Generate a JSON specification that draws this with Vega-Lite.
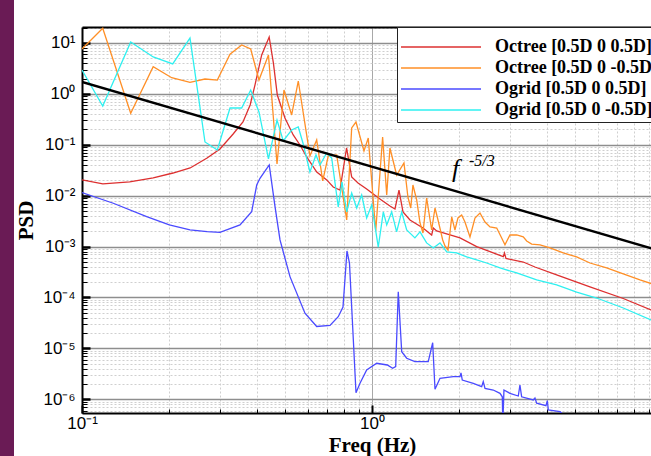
{
  "$schema": "https://vega.github.io/schema/vega-lite/v6.json",
  "autosize": "none",
  "padding": {"left": 82, "top": 27, "right": 0, "bottom": 43},
  "width": 580,
  "height": 386,
  "background": "#6a1b55",
  "config": {
    "view": {"fill": "white", "stroke": "white", "strokeWidth": 136}
  },
  "datasets": {
    "psd": [
      {"series": "Octree [0.5D 0 0.5D]", "f": 0.1, "psd": 0.0204},
      {"series": "Octree [0.5D 0 0.5D]", "f": 0.118, "psd": 0.017},
      {"series": "Octree [0.5D 0 0.5D]", "f": 0.146, "psd": 0.0186},
      {"series": "Octree [0.5D 0 0.5D]", "f": 0.176, "psd": 0.0223},
      {"series": "Octree [0.5D 0 0.5D]", "f": 0.206, "psd": 0.0279},
      {"series": "Octree [0.5D 0 0.5D]", "f": 0.236, "psd": 0.035},
      {"series": "Octree [0.5D 0 0.5D]", "f": 0.27, "psd": 0.0551},
      {"series": "Octree [0.5D 0 0.5D]", "f": 0.299, "psd": 0.0827},
      {"series": "Octree [0.5D 0 0.5D]", "f": 0.332, "psd": 0.163},
      {"series": "Octree [0.5D 0 0.5D]", "f": 0.359, "psd": 0.28},
      {"series": "Octree [0.5D 0 0.5D]", "f": 0.38, "psd": 0.605},
      {"series": "Octree [0.5D 0 0.5D]", "f": 0.395, "psd": 1.5},
      {"series": "Octree [0.5D 0 0.5D]", "f": 0.4165, "psd": 5.81},
      {"series": "Octree [0.5D 0 0.5D]", "f": 0.442, "psd": 13.1},
      {"series": "Octree [0.5D 0 0.5D]", "f": 0.457, "psd": 4.05},
      {"series": "Octree [0.5D 0 0.5D]", "f": 0.4715, "psd": 0.951},
      {"series": "Octree [0.5D 0 0.5D]", "f": 0.501, "psd": 0.336},
      {"series": "Octree [0.5D 0 0.5D]", "f": 0.535, "psd": 0.156},
      {"series": "Octree [0.5D 0 0.5D]", "f": 0.5645, "psd": 0.0991},
      {"series": "Octree [0.5D 0 0.5D]", "f": 0.5955, "psd": 0.0576},
      {"series": "Octree [0.5D 0 0.5D]", "f": 0.645, "psd": 0.0292},
      {"series": "Octree [0.5D 0 0.5D]", "f": 0.698, "psd": 0.0204},
      {"series": "Octree [0.5D 0 0.5D]", "f": 0.735, "psd": 0.0148},
      {"series": "Octree [0.5D 0 0.5D]", "f": 0.7755, "psd": 0.0129},
      {"series": "Octree [0.5D 0 0.5D]", "f": 0.817, "psd": 0.0865},
      {"series": "Octree [0.5D 0 0.5D]", "f": 0.851, "psd": 0.0233},
      {"series": "Octree [0.5D 0 0.5D]", "f": 0.895, "psd": 0.0178},
      {"series": "Octree [0.5D 0 0.5D]", "f": 0.9585, "psd": 0.01355},
      {"series": "Octree [0.5D 0 0.5D]", "f": 1.065, "psd": 0.00861},
      {"series": "Octree [0.5D 0 0.5D]", "f": 1.153, "psd": 0.00628},
      {"series": "Octree [0.5D 0 0.5D]", "f": 1.2, "psd": 0.00548},
      {"series": "Octree [0.5D 0 0.5D]", "f": 1.239, "psd": 0.0129},
      {"series": "Octree [0.5D 0 0.5D]", "f": 1.279, "psd": 0.00479},
      {"series": "Octree [0.5D 0 0.5D]", "f": 1.352, "psd": 0.00333},
      {"series": "Octree [0.5D 0 0.5D]", "f": 1.499, "psd": 0.00232},
      {"series": "Octree [0.5D 0 0.5D]", "f": 1.606, "psd": 0.00169},
      {"series": "Octree [0.5D 0 0.5D]", "f": 1.627, "psd": 0.00232},
      {"series": "Octree [0.5D 0 0.5D]", "f": 1.671, "psd": 0.00203},
      {"series": "Octree [0.5D 0 0.5D]", "f": 1.858, "psd": 0.00169},
      {"series": "Octree [0.5D 0 0.5D]", "f": 2.011, "psd": 0.00148},
      {"series": "Octree [0.5D 0 0.5D]", "f": 2.296, "psd": 0.000996},
      {"series": "Octree [0.5D 0 0.5D]", "f": 2.552, "psd": 0.000794},
      {"series": "Octree [0.5D 0 0.5D]", "f": 2.836, "psd": 0.000634},
      {"series": "Octree [0.5D 0 0.5D]", "f": 2.863, "psd": 0.000749},
      {"series": "Octree [0.5D 0 0.5D]", "f": 2.897, "psd": 0.000584},
      {"series": "Octree [0.5D 0 0.5D]", "f": 3.323, "psd": 0.000498},
      {"series": "Octree [0.5D 0 0.5D]", "f": 3.647, "psd": 0.000397},
      {"series": "Octree [0.5D 0 0.5D]", "f": 4.332, "psd": 0.000277},
      {"series": "Octree [0.5D 0 0.5D]", "f": 5.644, "psd": 0.000161},
      {"series": "Octree [0.5D 0 0.5D]", "f": 7.352, "psd": 0.0000956},
      {"series": "Octree [0.5D 0 0.5D]", "f": 9.162, "psd": 0.0000568},
      {"series": "Octree [0.5D 0 0.5D]", "f": 10, "psd": 0.0000474},

      {"series": "Octree [0.5D 0 -0.5D]", "f": 0.1, "psd": 7.62},
      {"series": "Octree [0.5D 0 -0.5D]", "f": 0.1179, "psd": 19.4},
      {"series": "Octree [0.5D 0 -0.5D]", "f": 0.1472, "psd": 0.416},
      {"series": "Octree [0.5D 0 -0.5D]", "f": 0.176, "psd": 3.42},
      {"series": "Octree [0.5D 0 -0.5D]", "f": 0.2038, "psd": 2.08},
      {"series": "Octree [0.5D 0 -0.5D]", "f": 0.2357, "psd": 1.69},
      {"series": "Octree [0.5D 0 -0.5D]", "f": 0.2655, "psd": 1.96},
      {"series": "Octree [0.5D 0 -0.5D]", "f": 0.2928, "psd": 1.87},
      {"series": "Octree [0.5D 0 -0.5D]", "f": 0.3239, "psd": 6.0},
      {"series": "Octree [0.5D 0 -0.5D]", "f": 0.3553, "psd": 9.14},
      {"series": "Octree [0.5D 0 -0.5D]", "f": 0.3817, "psd": 7.62},
      {"series": "Octree [0.5D 0 -0.5D]", "f": 0.4076, "psd": 1.87},
      {"series": "Octree [0.5D 0 -0.5D]", "f": 0.4395, "psd": 5.81},
      {"series": "Octree [0.5D 0 -0.5D]", "f": 0.4704, "psd": 0.042},
      {"series": "Octree [0.5D 0 -0.5D]", "f": 0.4971, "psd": 1.19},
      {"series": "Octree [0.5D 0 -0.5D]", "f": 0.5284, "psd": 0.385},
      {"series": "Octree [0.5D 0 -0.5D]", "f": 0.5569, "psd": 1.79},
      {"series": "Octree [0.5D 0 -0.5D]", "f": 0.6109, "psd": 0.0603},
      {"series": "Octree [0.5D 0 -0.5D]", "f": 0.6446, "psd": 0.1243},
      {"series": "Octree [0.5D 0 -0.5D]", "f": 0.676, "psd": 0.01945},
      {"series": "Octree [0.5D 0 -0.5D]", "f": 0.7067, "psd": 0.0603},
      {"series": "Octree [0.5D 0 -0.5D]", "f": 0.7554, "psd": 0.0631},
      {"series": "Octree [0.5D 0 -0.5D]", "f": 0.818, "psd": 0.00333},
      {"series": "Octree [0.5D 0 -0.5D]", "f": 0.851, "psd": 0.214},
      {"series": "Octree [0.5D 0 -0.5D]", "f": 0.8806, "psd": 0.28},
      {"series": "Octree [0.5D 0 -0.5D]", "f": 0.9382, "psd": 0.0755},
      {"series": "Octree [0.5D 0 -0.5D]", "f": 0.9707, "psd": 0.136},
      {"series": "Octree [0.5D 0 -0.5D]", "f": 1.03, "psd": 0.00203},
      {"series": "Octree [0.5D 0 -0.5D]", "f": 1.088, "psd": 0.142},
      {"series": "Octree [0.5D 0 -0.5D]", "f": 1.124, "psd": 0.0103},
      {"series": "Octree [0.5D 0 -0.5D]", "f": 1.153, "psd": 0.0865},
      {"series": "Octree [0.5D 0 -0.5D]", "f": 1.216, "psd": 0.0255},
      {"series": "Octree [0.5D 0 -0.5D]", "f": 1.289, "psd": 0.0439},
      {"series": "Octree [0.5D 0 -0.5D]", "f": 1.33, "psd": 0.00943},
      {"series": "Octree [0.5D 0 -0.5D]", "f": 1.36, "psd": 0.00573},
      {"series": "Octree [0.5D 0 -0.5D]", "f": 1.384, "psd": 0.0162},
      {"series": "Octree [0.5D 0 -0.5D]", "f": 1.426, "psd": 0.00823},
      {"series": "Octree [0.5D 0 -0.5D]", "f": 1.464, "psd": 0.00291},
      {"series": "Octree [0.5D 0 -0.5D]", "f": 1.499, "psd": 0.00185},
      {"series": "Octree [0.5D 0 -0.5D]", "f": 1.543, "psd": 0.00901},
      {"series": "Octree [0.5D 0 -0.5D]", "f": 1.606, "psd": 0.00212},
      {"series": "Octree [0.5D 0 -0.5D]", "f": 1.649, "psd": 0.00573},
      {"series": "Octree [0.5D 0 -0.5D]", "f": 1.689, "psd": 0.00333},
      {"series": "Octree [0.5D 0 -0.5D]", "f": 1.753, "psd": 0.00135},
      {"series": "Octree [0.5D 0 -0.5D]", "f": 1.785, "psd": 0.00103},
      {"series": "Octree [0.5D 0 -0.5D]", "f": 1.828, "psd": 0.000857},
      {"series": "Octree [0.5D 0 -0.5D]", "f": 1.883, "psd": 0.00382},
      {"series": "Octree [0.5D 0 -0.5D]", "f": 1.932, "psd": 0.00212},
      {"series": "Octree [0.5D 0 -0.5D]", "f": 1.979, "psd": 0.00365},
      {"series": "Octree [0.5D 0 -0.5D]", "f": 2.038, "psd": 0.00418},
      {"series": "Octree [0.5D 0 -0.5D]", "f": 2.092, "psd": 0.00304},
      {"series": "Octree [0.5D 0 -0.5D]", "f": 2.177, "psd": 0.00155},
      {"series": "Octree [0.5D 0 -0.5D]", "f": 2.265, "psd": 0.00365},
      {"series": "Octree [0.5D 0 -0.5D]", "f": 2.357, "psd": 0.00457},
      {"series": "Octree [0.5D 0 -0.5D]", "f": 2.453, "psd": 0.00304},
      {"series": "Octree [0.5D 0 -0.5D]", "f": 2.552, "psd": 0.00243},
      {"series": "Octree [0.5D 0 -0.5D]", "f": 2.692, "psd": 0.00232},
      {"series": "Octree [0.5D 0 -0.5D]", "f": 2.8, "psd": 0.00148},
      {"series": "Octree [0.5D 0 -0.5D]", "f": 2.874, "psd": 0.00108},
      {"series": "Octree [0.5D 0 -0.5D]", "f": 2.99, "psd": 0.00169},
      {"series": "Octree [0.5D 0 -0.5D]", "f": 3.155, "psd": 0.00169},
      {"series": "Octree [0.5D 0 -0.5D]", "f": 3.323, "psd": 0.00155},
      {"series": "Octree [0.5D 0 -0.5D]", "f": 3.415, "psd": 0.00129},
      {"series": "Octree [0.5D 0 -0.5D]", "f": 3.553, "psd": 0.00112},
      {"series": "Octree [0.5D 0 -0.5D]", "f": 3.796, "psd": 0.00108},
      {"series": "Octree [0.5D 0 -0.5D]", "f": 4.11, "psd": 0.00094},
      {"series": "Octree [0.5D 0 -0.5D]", "f": 4.565, "psd": 0.000749},
      {"series": "Octree [0.5D 0 -0.5D]", "f": 5.078, "psd": 0.000625},
      {"series": "Octree [0.5D 0 -0.5D]", "f": 5.644, "psd": 0.000476},
      {"series": "Octree [0.5D 0 -0.5D]", "f": 6.445, "psd": 0.00038},
      {"series": "Octree [0.5D 0 -0.5D]", "f": 7.352, "psd": 0.00029},
      {"series": "Octree [0.5D 0 -0.5D]", "f": 8.395, "psd": 0.000221},
      {"series": "Octree [0.5D 0 -0.5D]", "f": 10, "psd": 0.000161},

      {"series": "Ogrid [0.5D 0 0.5D]", "f": 0.1, "psd": 0.01146},
      {"series": "Ogrid [0.5D 0 0.5D]", "f": 0.1282, "psd": 0.0071},
      {"series": "Ogrid [0.5D 0 0.5D]", "f": 0.1671, "psd": 0.00387},
      {"series": "Ogrid [0.5D 0 0.5D]", "f": 0.2, "psd": 0.00266},
      {"series": "Ogrid [0.5D 0 0.5D]", "f": 0.2357, "psd": 0.00212},
      {"series": "Ogrid [0.5D 0 0.5D]", "f": 0.27, "psd": 0.00196},
      {"series": "Ogrid [0.5D 0 0.5D]", "f": 0.299, "psd": 0.00191},
      {"series": "Ogrid [0.5D 0 0.5D]", "f": 0.3506, "psd": 0.00266},
      {"series": "Ogrid [0.5D 0 0.5D]", "f": 0.3847, "psd": 0.00485},
      {"series": "Ogrid [0.5D 0 0.5D]", "f": 0.4004, "psd": 0.0162},
      {"series": "Ogrid [0.5D 0 0.5D]", "f": 0.4109, "psd": 0.022},
      {"series": "Ogrid [0.5D 0 0.5D]", "f": 0.4422, "psd": 0.0401},
      {"series": "Ogrid [0.5D 0 0.5D]", "f": 0.463, "psd": 0.00608},
      {"series": "Ogrid [0.5D 0 0.5D]", "f": 0.4817, "psd": 0.00135},
      {"series": "Ogrid [0.5D 0 0.5D]", "f": 0.5214, "psd": 0.000257},
      {"series": "Ogrid [0.5D 0 0.5D]", "f": 0.5873, "psd": 0.000049},
      {"series": "Ogrid [0.5D 0 0.5D]", "f": 0.6446, "psd": 0.0000269},
      {"series": "Ogrid [0.5D 0 0.5D]", "f": 0.7164, "psd": 0.0000282},
      {"series": "Ogrid [0.5D 0 0.5D]", "f": 0.7648, "psd": 0.000042},
      {"series": "Ogrid [0.5D 0 0.5D]", "f": 0.7943, "psd": 0.000065},
      {"series": "Ogrid [0.5D 0 0.5D]", "f": 0.8198, "psd": 0.00082},
      {"series": "Ogrid [0.5D 0 0.5D]", "f": 0.8362, "psd": 0.000476},
      {"series": "Ogrid [0.5D 0 0.5D]", "f": 0.8806, "psd": 0.00000135},
      {"series": "Ogrid [0.5D 0 0.5D]", "f": 0.9091, "psd": 0.00000206},
      {"series": "Ogrid [0.5D 0 0.5D]", "f": 0.9585, "psd": 0.00000377},
      {"series": "Ogrid [0.5D 0 0.5D]", "f": 1.038, "psd": 0.0000051},
      {"series": "Ogrid [0.5D 0 0.5D]", "f": 1.129, "psd": 0.00000472},
      {"series": "Ogrid [0.5D 0 0.5D]", "f": 1.178, "psd": 0.00000406},
      {"series": "Ogrid [0.5D 0 0.5D]", "f": 1.207, "psd": 0.00000437},
      {"series": "Ogrid [0.5D 0 0.5D]", "f": 1.232, "psd": 0.00013},
      {"series": "Ogrid [0.5D 0 0.5D]", "f": 1.266, "psd": 0.0000086},
      {"series": "Ogrid [0.5D 0 0.5D]", "f": 1.317, "psd": 0.0000064},
      {"series": "Ogrid [0.5D 0 0.5D]", "f": 1.406, "psd": 0.00000548},
      {"series": "Ogrid [0.5D 0 0.5D]", "f": 1.563, "psd": 0.00000548},
      {"series": "Ogrid [0.5D 0 0.5D]", "f": 1.619, "psd": 0.0000129},
      {"series": "Ogrid [0.5D 0 0.5D]", "f": 1.649, "psd": 0.00000157},
      {"series": "Ogrid [0.5D 0 0.5D]", "f": 1.716, "psd": 0.00000259},
      {"series": "Ogrid [0.5D 0 0.5D]", "f": 1.907, "psd": 0.00000278},
      {"series": "Ogrid [0.5D 0 0.5D]", "f": 2.011, "psd": 0.00000278},
      {"series": "Ogrid [0.5D 0 0.5D]", "f": 2.027, "psd": 0.00000329},
      {"series": "Ogrid [0.5D 0 0.5D]", "f": 2.048, "psd": 0.00000239},
      {"series": "Ogrid [0.5D 0 0.5D]", "f": 2.235, "psd": 0.00000206},
      {"series": "Ogrid [0.5D 0 0.5D]", "f": 2.389, "psd": 0.00000177},
      {"series": "Ogrid [0.5D 0 0.5D]", "f": 2.419, "psd": 0.00000222},
      {"series": "Ogrid [0.5D 0 0.5D]", "f": 2.453, "psd": 0.00000164},
      {"series": "Ogrid [0.5D 0 0.5D]", "f": 2.619, "psd": 0.00000152},
      {"series": "Ogrid [0.5D 0 0.5D]", "f": 2.763, "psd": 0.00000131},
      {"series": "Ogrid [0.5D 0 0.5D]", "f": 2.814, "psd": 0.00000112},
      {"series": "Ogrid [0.5D 0 0.5D]", "f": 2.825, "psd": 0.00000031},
      {"series": "Ogrid [0.5D 0 0.5D]", "f": 2.851, "psd": 0.00000152},
      {"series": "Ogrid [0.5D 0 0.5D]", "f": 2.99, "psd": 0.00000131},
      {"series": "Ogrid [0.5D 0 0.5D]", "f": 3.195, "psd": 0.00000116},
      {"series": "Ogrid [0.5D 0 0.5D]", "f": 3.237, "psd": 0.00000191},
      {"series": "Ogrid [0.5D 0 0.5D]", "f": 3.281, "psd": 0.00000112},
      {"series": "Ogrid [0.5D 0 0.5D]", "f": 3.598, "psd": 0.00000097},
      {"series": "Ogrid [0.5D 0 0.5D]", "f": 3.647, "psd": 0.00000106},
      {"series": "Ogrid [0.5D 0 0.5D]", "f": 3.697, "psd": 0.00000084},
      {"series": "Ogrid [0.5D 0 0.5D]", "f": 3.981, "psd": 0.00000075},
      {"series": "Ogrid [0.5D 0 0.5D]", "f": 4.023, "psd": 0.00000094},
      {"series": "Ogrid [0.5D 0 0.5D]", "f": 4.055, "psd": 0.00000062},
      {"series": "Ogrid [0.5D 0 0.5D]", "f": 4.45, "psd": 0.00000057},
      {"series": "Ogrid [0.5D 0 0.5D]", "f": 5.01, "psd": 0.00000031},

      {"series": "Ogrid [0.5D 0 -0.5D]", "f": 0.1, "psd": 2.95},
      {"series": "Ogrid [0.5D 0 -0.5D]", "f": 0.1179, "psd": 0.578},
      {"series": "Ogrid [0.5D 0 -0.5D]", "f": 0.1472, "psd": 10.5},
      {"series": "Ogrid [0.5D 0 -0.5D]", "f": 0.176, "psd": 5.31},
      {"series": "Ogrid [0.5D 0 -0.5D]", "f": 0.2055, "psd": 3.87},
      {"series": "Ogrid [0.5D 0 -0.5D]", "f": 0.2357, "psd": 12.5},
      {"series": "Ogrid [0.5D 0 -0.5D]", "f": 0.2655, "psd": 0.1135},
      {"series": "Ogrid [0.5D 0 -0.5D]", "f": 0.2928, "psd": 0.0791},
      {"series": "Ogrid [0.5D 0 -0.5D]", "f": 0.3239, "psd": 0.528},
      {"series": "Ogrid [0.5D 0 -0.5D]", "f": 0.3553, "psd": 0.528},
      {"series": "Ogrid [0.5D 0 -0.5D]", "f": 0.3817, "psd": 1.19},
      {"series": "Ogrid [0.5D 0 -0.5D]", "f": 0.4076, "psd": 0.441},
      {"series": "Ogrid [0.5D 0 -0.5D]", "f": 0.4395, "psd": 0.0526},
      {"series": "Ogrid [0.5D 0 -0.5D]", "f": 0.4704, "psd": 0.307},
      {"series": "Ogrid [0.5D 0 -0.5D]", "f": 0.4943, "psd": 0.119},
      {"series": "Ogrid [0.5D 0 -0.5D]", "f": 0.5284, "psd": 0.195},
      {"series": "Ogrid [0.5D 0 -0.5D]", "f": 0.5569, "psd": 0.224},
      {"series": "Ogrid [0.5D 0 -0.5D]", "f": 0.578, "psd": 0.1085},
      {"series": "Ogrid [0.5D 0 -0.5D]", "f": 0.6109, "psd": 0.0292},
      {"series": "Ogrid [0.5D 0 -0.5D]", "f": 0.641, "psd": 0.0631},
      {"series": "Ogrid [0.5D 0 -0.5D]", "f": 0.6614, "psd": 0.0401},
      {"series": "Ogrid [0.5D 0 -0.5D]", "f": 0.6978, "psd": 0.069},
      {"series": "Ogrid [0.5D 0 -0.5D]", "f": 0.7262, "psd": 0.0551},
      {"series": "Ogrid [0.5D 0 -0.5D]", "f": 0.7648, "psd": 0.006},
      {"series": "Ogrid [0.5D 0 -0.5D]", "f": 0.788, "psd": 0.0186},
      {"series": "Ogrid [0.5D 0 -0.5D]", "f": 0.818, "psd": 0.00479},
      {"series": "Ogrid [0.5D 0 -0.5D]", "f": 0.851, "psd": 0.0113},
      {"series": "Ogrid [0.5D 0 -0.5D]", "f": 0.8856, "psd": 0.00573},
      {"series": "Ogrid [0.5D 0 -0.5D]", "f": 0.9213, "psd": 0.0103},
      {"series": "Ogrid [0.5D 0 -0.5D]", "f": 0.9585, "psd": 0.00365},
      {"series": "Ogrid [0.5D 0 -0.5D]", "f": 0.9975, "psd": 0.00657},
      {"series": "Ogrid [0.5D 0 -0.5D]", "f": 1.051, "psd": 0.00098},
      {"series": "Ogrid [0.5D 0 -0.5D]", "f": 1.094, "psd": 0.00479},
      {"series": "Ogrid [0.5D 0 -0.5D]", "f": 1.124, "psd": 0.00266},
      {"series": "Ogrid [0.5D 0 -0.5D]", "f": 1.169, "psd": 0.00479},
      {"series": "Ogrid [0.5D 0 -0.5D]", "f": 1.216, "psd": 0.00194},
      {"series": "Ogrid [0.5D 0 -0.5D]", "f": 1.266, "psd": 0.00479},
      {"series": "Ogrid [0.5D 0 -0.5D]", "f": 1.317, "psd": 0.00212},
      {"series": "Ogrid [0.5D 0 -0.5D]", "f": 1.406, "psd": 0.00148},
      {"series": "Ogrid [0.5D 0 -0.5D]", "f": 1.464, "psd": 0.00194},
      {"series": "Ogrid [0.5D 0 -0.5D]", "f": 1.543, "psd": 0.00118},
      {"series": "Ogrid [0.5D 0 -0.5D]", "f": 1.627, "psd": 0.00094},
      {"series": "Ogrid [0.5D 0 -0.5D]", "f": 1.716, "psd": 0.00118},
      {"series": "Ogrid [0.5D 0 -0.5D]", "f": 1.81, "psd": 0.000783},
      {"series": "Ogrid [0.5D 0 -0.5D]", "f": 1.959, "psd": 0.000749},
      {"series": "Ogrid [0.5D 0 -0.5D]", "f": 2.121, "psd": 0.000625},
      {"series": "Ogrid [0.5D 0 -0.5D]", "f": 2.296, "psd": 0.000546},
      {"series": "Ogrid [0.5D 0 -0.5D]", "f": 2.485, "psd": 0.000476},
      {"series": "Ogrid [0.5D 0 -0.5D]", "f": 2.763, "psd": 0.00038},
      {"series": "Ogrid [0.5D 0 -0.5D]", "f": 3.155, "psd": 0.000303},
      {"series": "Ogrid [0.5D 0 -0.5D]", "f": 3.697, "psd": 0.000221},
      {"series": "Ogrid [0.5D 0 -0.5D]", "f": 4.332, "psd": 0.000176},
      {"series": "Ogrid [0.5D 0 -0.5D]", "f": 5.078, "psd": 0.000128},
      {"series": "Ogrid [0.5D 0 -0.5D]", "f": 5.952, "psd": 0.0000977},
      {"series": "Ogrid [0.5D 0 -0.5D]", "f": 7.352, "psd": 0.0000622},
      {"series": "Ogrid [0.5D 0 -0.5D]", "f": 9.162, "psd": 0.0000361},
      {"series": "Ogrid [0.5D 0 -0.5D]", "f": 10, "psd": 0.0000302}
    ],
    "ref": [
      {"f": 0.1, "psd": 1.72},
      {"f": 10, "psd": 0.0008}
    ],
    "ann1": [{"f": 1.888, "psd": 0.0233, "label": "f"}],
    "ann2": [{"f": 2.16, "psd": 0.0375, "label": "-5/3"}]
  },
  "layer": [
    {
      "data": {"name": "psd"},
      "mark": {"type": "line", "strokeWidth": 1.3, "clip": true},
      "encoding": {
        "x": {
          "field": "f", "type": "quantitative",
          "scale": {"type": "log", "domain": [0.1, 10], "nice": false},
          "axis": {
            "orient": "bottom",
            "values": [0.1,0.2,0.3,0.4,0.5,0.6,0.7,0.8,0.9,1,2,3,4,5,6,7,8,9,10],
            "labelExpr": "abs(log(datum.value)/LN10 - round(log(datum.value)/LN10)) > 0.01 ? '' : ['10⁻¹','10⁰','10¹'][round(log(datum.value)/LN10) + 1]",
            "labelFont": "Liberation Sans", "labelFontSize": 17, "labelColor": "black",
            "labelOverlap": false, "labelFlush": false, "labelPadding": 10,
            "domainColor": "black", "domainWidth": 2,
            "tickColor": "black",
            "tickSize": {"condition": {"test": "abs(log(datum.value)/LN10 - round(log(datum.value)/LN10)) < 0.01", "value": -8}, "value": -4},
            "tickWidth": {"condition": {"test": "abs(log(datum.value)/LN10 - round(log(datum.value)/LN10)) < 0.01", "value": 2}, "value": 1},
            "grid": true,
            "gridColor": {"condition": {"test": "abs(log(datum.value)/LN10 - round(log(datum.value)/LN10)) < 0.01", "value": "#a8a8a8"}, "value": "#cfcfcf"},
            "gridDash": {"condition": {"test": "abs(log(datum.value)/LN10 - round(log(datum.value)/LN10)) < 0.01", "value": []}, "value": [2, 2]},
            "gridWidth": 1,
            "title": "Freq (Hz)",
            "titleFont": "Liberation Serif", "titleFontWeight": "bold", "titleFontSize": 21, "titleColor": "black",
            "titleBaseline": "alphabetic", "titleX": 290, "titleY": 38
          }
        },
        "y": {
          "field": "psd", "type": "quantitative",
          "scale": {"type": "log", "domain": [5.38e-7, 20.6], "nice": false},
          "axis": {
            "values": [6e-7,7e-7,8e-7,9e-7,1e-6,2e-6,3e-6,4e-6,5e-6,6e-6,7e-6,8e-6,9e-6,1e-5,2e-5,3e-5,4e-5,5e-5,6e-5,7e-5,8e-5,9e-5,1e-4,2e-4,3e-4,4e-4,5e-4,6e-4,7e-4,8e-4,9e-4,0.001,0.002,0.003,0.004,0.005,0.006,0.007,0.008,0.009,0.01,0.02,0.03,0.04,0.05,0.06,0.07,0.08,0.09,0.1,0.2,0.3,0.4,0.5,0.6,0.7,0.8,0.9,1,2,3,4,5,6,7,8,9,10,20],
            "labelExpr": "abs(log(datum.value)/LN10 - round(log(datum.value)/LN10)) > 0.01 ? '' : ['10⁻⁶','10⁻⁵','10⁻⁴','10⁻³','10⁻²','10⁻¹','10⁰','10¹'][round(log(datum.value)/LN10) + 6]",
            "labelFont": "Liberation Sans", "labelFontSize": 17, "labelColor": "black",
            "labelOverlap": false, "labelFlush": false, "labelPadding": 15,
            "domainColor": "black", "domainWidth": 2,
            "tickColor": "black",
            "tickSize": {"condition": {"test": "abs(log(datum.value)/LN10 - round(log(datum.value)/LN10)) < 0.01", "value": -8}, "value": -5},
            "tickWidth": {"condition": {"test": "abs(log(datum.value)/LN10 - round(log(datum.value)/LN10)) < 0.01", "value": 2.5}, "value": 1},
            "grid": true,
            "gridColor": {"condition": {"test": "abs(log(datum.value)/LN10 - round(log(datum.value)/LN10)) < 0.01", "value": "#8e8e8e"}, "value": "#cfcfcf"},
            "gridDash": {"condition": {"test": "abs(log(datum.value)/LN10 - round(log(datum.value)/LN10)) < 0.01", "value": []}, "value": [2, 2]},
            "gridWidth": {"condition": {"test": "abs(log(datum.value)/LN10 - round(log(datum.value)/LN10)) < 0.01", "value": 1.5}, "value": 1},
            "title": "PSD",
            "titleFont": "Liberation Serif", "titleFontWeight": "bold", "titleFontSize": 21, "titleColor": "black",
            "titleX": -46, "titleY": 193
          }
        },
        "color": {
          "field": "series", "type": "nominal",
          "scale": {
            "domain": ["Octree [0.5D 0 0.5D]", "Octree [0.5D 0 -0.5D]", "Ogrid [0.5D 0 0.5D]", "Ogrid [0.5D 0 -0.5D]"],
            "range": ["#dd3030", "#ff8f26", "#4a4aff", "#2ef0f0"]
          },
          "legend": {
            "orient": "none", "legendX": 315, "legendY": 0,
            "title": " ", "titleFontSize": 6, "titlePadding": 2,
            "fillColor": "white", "strokeColor": "#222222",
            "padding": 3,
            "symbolType": "M-1.6,0H14.4", "symbolSize": 100, "symbolStrokeWidth": 1.5,
            "labelFont": "Liberation Serif", "labelFontWeight": "bold", "labelFontSize": 18, "labelColor": "black",
            "labelOffset": 77, "rowPadding": 3, "labelLimit": 400
          }
        }
      }
    },
    {
      "data": {"name": "ref"},
      "mark": {"type": "line", "color": "black", "strokeWidth": 2.5, "clip": true},
      "encoding": {
        "x": {"field": "f", "type": "quantitative", "scale": {"type": "log", "domain": [0.1, 10], "nice": false},
              "axis": {"orient": "top", "domain": true, "domainColor": "black", "domainWidth": 2, "ticks": false, "labels": false, "grid": false, "title": null}},
        "y": {"field": "psd", "type": "quantitative", "scale": {"type": "log", "domain": [5.38e-7, 20.6], "nice": false}}
      }
    },
    {
      "data": {"name": "ann1"},
      "mark": {"type": "text", "font": "Liberation Serif", "fontStyle": "italic", "fontSize": 26, "align": "left", "baseline": "alphabetic", "color": "black"},
      "encoding": {
        "x": {"field": "f", "type": "quantitative", "scale": {"type": "log", "domain": [0.1, 10], "nice": false}, "axis": null},
        "y": {"field": "psd", "type": "quantitative", "scale": {"type": "log", "domain": [5.38e-7, 20.6], "nice": false}},
        "text": {"field": "label"}
      }
    },
    {
      "data": {"name": "ann2"},
      "mark": {"type": "text", "font": "Liberation Serif", "fontStyle": "italic", "fontSize": 16, "align": "left", "baseline": "alphabetic", "color": "black"},
      "encoding": {
        "x": {"field": "f", "type": "quantitative", "scale": {"type": "log", "domain": [0.1, 10], "nice": false}, "axis": null},
        "y": {"field": "psd", "type": "quantitative", "scale": {"type": "log", "domain": [5.38e-7, 20.6], "nice": false}},
        "text": {"field": "label"}
      }
    }
  ],
  "resolve": {"axis": {"x": "independent"}}
}
